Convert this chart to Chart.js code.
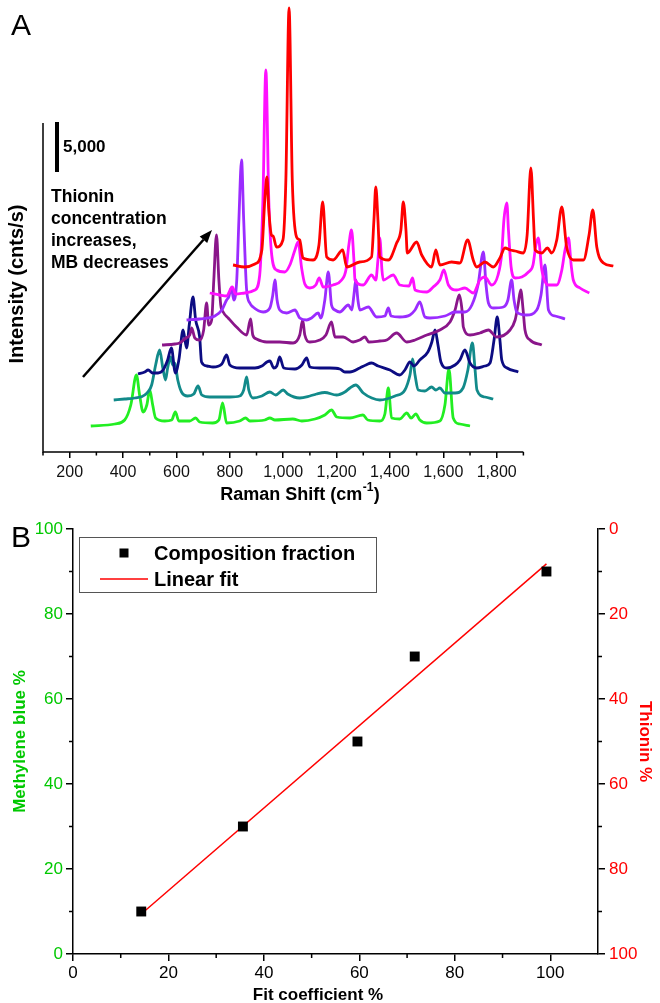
<!DOCTYPE html>
<html>
<head>
<meta charset="utf-8">
<script src="https://cdn.jsdelivr.net/npm/chart.js@4.4.0/dist/chart.umd.min.js"></script>
<style>
  html, body { margin: 0; padding: 0; background: #fff; }
  #wrap { position: relative; width: 660px; height: 1003px; }
  canvas { position: absolute; left: 0; }
  #spectraChart { top: 0; width: 660px; height: 510px; }
  #fitChart { top: 510px; width: 660px; height: 493px; }
</style>
</head>
<body>
<div id="wrap">
  <canvas id="spectraChart" width="660" height="510"></canvas>
  <canvas id="fitChart" width="660" height="493"></canvas>
</div>
<script>
// ---- Panel A: offset Raman spectra (shift in cm-1 as read on the axis, intensity in cnts/s) ----
const greenShift = [279, 369, 406, 429, 450, 462, 475, 489, 500, 511, 522, 556, 582, 596, 609, 650, 672, 687, 736, 759, 773, 788, 837, 859, 875, 931, 950, 969, 1036, 1070, 1119, 1156, 1181, 1201, 1250, 1299, 1317, 1362, 1381, 1394, 1406, 1437, 1463, 1479, 1497, 1512, 1538, 1587, 1606, 1621, 1637, 1662, 1700];
const greenCounts = [2600, 2800, 3200, 4700, 7700, 5700, 4000, 4700, 6200, 4700, 3400, 3100, 3200, 4000, 3100, 3100, 3400, 3000, 2900, 3200, 4900, 2900, 3100, 3400, 3100, 3200, 3400, 3200, 3300, 3100, 3300, 3700, 4200, 3500, 3400, 3700, 3200, 3100, 3800, 6400, 3400, 3300, 3900, 3400, 3800, 3200, 2900, 3100, 4700, 8300, 3400, 2800, 2600];

const tealShift = [365, 406, 444, 481, 507, 522, 537, 549, 559, 567, 578, 586, 594, 605, 619, 642, 665, 681, 695, 725, 750, 800, 837, 852, 863, 871, 887, 920, 950, 972, 1000, 1017, 1062, 1100, 1125, 1156, 1200, 1231, 1250, 1272, 1300, 1332, 1362, 1419, 1456, 1475, 1485, 1494, 1506, 1531, 1556, 1572, 1587, 1606, 1644, 1674, 1692, 1709, 1719, 1726, 1756, 1787];
const tealCounts = [5200, 5300, 5400, 5700, 6700, 8700, 10200, 8400, 7200, 8400, 9500, 8700, 8900, 7200, 6000, 5600, 5800, 6600, 5700, 5500, 5500, 5500, 5600, 6200, 7500, 6200, 5400, 5600, 6000, 5700, 6200, 5800, 5400, 5600, 5800, 5950, 5700, 6000, 6400, 6700, 5900, 5400, 5200, 5600, 6200, 7700, 9300, 7700, 6200, 6100, 6500, 6200, 6400, 5900, 5900, 6400, 8200, 10900, 8200, 6200, 5500, 5300];

const navyShift = [456, 481, 494, 511, 531, 550, 567, 581, 596, 609, 625, 638, 648, 662, 672, 687, 694, 714, 737, 770, 788, 800, 837, 894, 920, 939, 950, 965, 976, 987, 1002, 1044, 1070, 1088, 1100, 1137, 1175, 1212, 1231, 1250, 1287, 1310, 1331, 1356, 1400, 1437, 1456, 1475, 1490, 1512, 1542, 1557, 1569, 1580, 1591, 1613, 1644, 1662, 1681, 1700, 1725, 1756, 1775, 1790, 1802, 1812, 1819, 1839, 1881];
const navyCounts = [7800, 8000, 8200, 7900, 7900, 8200, 9200, 10400, 7900, 9200, 12200, 10400, 12700, 15500, 13200, 11500, 9000, 8600, 8500, 8800, 9700, 8700, 8400, 8400, 8600, 9000, 9100, 8400, 8600, 9500, 8400, 8300, 8700, 9400, 8500, 8400, 8400, 8300, 8000, 8000, 8400, 8700, 8900, 8600, 8200, 7700, 8200, 9000, 8600, 9200, 10000, 11000, 12200, 10700, 9000, 8400, 8700, 9200, 10200, 8900, 8400, 8600, 8900, 11200, 13500, 11200, 9200, 8400, 8000];

const purpleShift = [546, 594, 612, 635, 650, 657, 669, 687, 702, 713, 721, 732, 740, 750, 759, 766, 775, 794, 825, 863, 878, 886, 900, 938, 987, 1037, 1062, 1073, 1081, 1100, 1137, 1160, 1181, 1194, 1225, 1262, 1287, 1306, 1321, 1362, 1388, 1425, 1463, 1494, 1538, 1587, 1625, 1644, 1660, 1670, 1675, 1700, 1737, 1769, 1800, 1850, 1869, 1880, 1890, 1899, 1906, 1925, 1969];
const purpleCounts = [10700, 10800, 10900, 11400, 11700, 12400, 11400, 11200, 12200, 14900, 12700, 13200, 17200, 21700, 17200, 14700, 14000, 13400, 12500, 11700, 13300, 11700, 11300, 11000, 11000, 10900, 11700, 13200, 11700, 11000, 11200, 11700, 13000, 11500, 11500, 11000, 11200, 11500, 11000, 11100, 11200, 11900, 11000, 11200, 11700, 12200, 13000, 14200, 15700, 14200, 12500, 11700, 11900, 12200, 11500, 12200, 13200, 14700, 16200, 14200, 12200, 11200, 10700];

const violetShift = [638, 687, 744, 770, 788, 796, 806, 815, 826, 834, 844, 852, 863, 875, 887, 925, 950, 961, 969, 977, 987, 1013, 1044, 1062, 1088, 1106, 1131, 1141, 1156, 1169, 1181, 1194, 1212, 1244, 1257, 1265, 1272, 1280, 1287, 1319, 1350, 1381, 1394, 1404, 1437, 1475, 1494, 1512, 1531, 1550, 1606, 1644, 1681, 1707, 1730, 1750, 1760, 1769, 1787, 1825, 1842, 1856, 1865, 1875, 1912, 1950, 1966, 1981, 1994, 2019, 2056];
const violetCounts = [13200, 13300, 13600, 14200, 15200, 15500, 16400, 15200, 17200, 23200, 29200, 23200, 16200, 14900, 14500, 14000, 14400, 15700, 17200, 15200, 14200, 13900, 14200, 13400, 13200, 13400, 13900, 13400, 15200, 18000, 14700, 14200, 14000, 14700, 14200, 15700, 17200, 15200, 14200, 14500, 13500, 13600, 14400, 13600, 13500, 13700, 14200, 15000, 13500, 13400, 13600, 14000, 14000, 14700, 16700, 20000, 16700, 14900, 14400, 14500, 15200, 17200, 15200, 14000, 13700, 14200, 15700, 18700, 14200, 13600, 13300];

const magentaShift = [725, 762, 788, 809, 822, 856, 894, 912, 924, 935, 946, 957, 975, 1006, 1025, 1044, 1056, 1069, 1081, 1100, 1122, 1135, 1150, 1187, 1219, 1235, 1246, 1256, 1265, 1269, 1300, 1331, 1347, 1355, 1362, 1370, 1375, 1412, 1437, 1471, 1485, 1494, 1538, 1562, 1587, 1602, 1619, 1650, 1681, 1712, 1737, 1756, 1781, 1805, 1819, 1827, 1838, 1844, 1854, 1869, 1894, 1919, 1936, 1947, 1956, 1969, 1994, 2025, 2044, 2056, 2069, 2079, 2087, 2112, 2147];
const magentaCounts = [15900, 15700, 15600, 16500, 15800, 15900, 16200, 17700, 25200, 38200, 25200, 19700, 18200, 18000, 18700, 20200, 21000, 18400, 16800, 16400, 16700, 17400, 16500, 16700, 17200, 18200, 20700, 22200, 19200, 17200, 16700, 17700, 17200, 19200, 21400, 18200, 17200, 17700, 16700, 16600, 17400, 16200, 16000, 16500, 17200, 18200, 16700, 16200, 16400, 15900, 17200, 17500, 16700, 17700, 19900, 23200, 24900, 22200, 18500, 17400, 17500, 18000, 18700, 20700, 21400, 18200, 16700, 16700, 18200, 20200, 21400, 18700, 17200, 16400, 15900];

const redShift = [812, 856, 894, 920, 931, 939, 946, 956, 962, 975, 999, 1010, 1022, 1034, 1050, 1062, 1074, 1112, 1134, 1148, 1163, 1187, 1223, 1238, 1287, 1331, 1340, 1347, 1355, 1362, 1394, 1425, 1441, 1450, 1460, 1465, 1500, 1519, 1556, 1572, 1587, 1631, 1662, 1691, 1712, 1725, 1756, 1787, 1812, 1831, 1850, 1869, 1900, 1914, 1928, 1938, 1944, 1969, 1990, 2006, 2025, 2044, 2062, 2087, 2125, 2146, 2160, 2175, 2200, 2237];
const redCounts = [18700, 18500, 18800, 20200, 25200, 27500, 24200, 21700, 21600, 20500, 21200, 27200, 44400, 27200, 21500, 21200, 19400, 19200, 20700, 25000, 19500, 19200, 20200, 18500, 19000, 19500, 23200, 26500, 23200, 19500, 19200, 20900, 22200, 25000, 22200, 19900, 21000, 19700, 18500, 20200, 18700, 19000, 18900, 21200, 19200, 18500, 19000, 18500, 19400, 20400, 20200, 20100, 19900, 21700, 28400, 23200, 20200, 19900, 20400, 19900, 21200, 24500, 20500, 19200, 19200, 21700, 24200, 20500, 18900, 18600];

const ramanTicks = [200, 400, 600, 800, 1000, 1200, 1400, 1600, 1800];
const ramanMinorTicks = [100, 300, 500, 700, 900, 1100, 1300, 1500, 1700, 1900];
const ramanAxisEnd = 1900;
const scaleBarBase = 28000;
const scaleBarSize = 5000;

// ---- Panel B: composition vs fit coefficient ----
const fitCoefficient = [14.3, 35.6, 59.6, 71.6, 99.2];
const methyleneBluePct = [10, 30, 50, 70, 90];
const fitLineX = [14.3, 99.2];
const fitLineY = [9.4, 91.8];
const fitTicks = [0, 20, 40, 60, 80, 100];
const fitMinorTicks = [10, 30, 50, 70, 90];
const pctTicks = [0, 20, 40, 60, 80, 100];
const pctMinorTicks = [10, 30, 50, 70, 90];

const FONT = '"Liberation Sans", Arial, Helvetica, sans-serif';
const MB_GREEN = '#00c800';
const TH_RED = '#ff0000';
Chart.defaults.font.family = FONT;

const spectra = [
  { label: 'Spectrum 1', x: greenShift, y: greenCounts, color: '#22ee22' },
  { label: 'Spectrum 2', x: tealShift, y: tealCounts, color: '#128a8a' },
  { label: 'Spectrum 3', x: navyShift, y: navyCounts, color: '#0c0c82' },
  { label: 'Spectrum 4', x: purpleShift, y: purpleCounts, color: '#8a168a' },
  { label: 'Spectrum 5', x: violetShift, y: violetCounts, color: '#9b2cff' },
  { label: 'Spectrum 6', x: magentaShift, y: magentaCounts, color: '#ff10ff' },
  { label: 'Spectrum 7', x: redShift, y: redCounts, color: '#ff0000' }
];

function drawArrow(ctx, x1, y1, x2, y2) {
  const ang = Math.atan2(y2 - y1, x2 - x1);
  const head = 13, half = 5;
  const bx = x2 - head * Math.cos(ang), by = y2 - head * Math.sin(ang);
  ctx.beginPath();
  ctx.moveTo(x1, y1);
  ctx.lineTo(bx, by);
  ctx.stroke();
  ctx.beginPath();
  ctx.moveTo(x2, y2);
  ctx.lineTo(bx + half * Math.sin(ang), by - half * Math.cos(ang));
  ctx.lineTo(bx - half * Math.sin(ang), by + half * Math.cos(ang));
  ctx.closePath();
  ctx.fill();
}

const spectraDecor = {
  id: 'spectraDecor',
  afterDraw(chart) {
    const { ctx, chartArea: a, scales: { x, y } } = chart;
    const axisEnd = x.getPixelForValue(ramanAxisEnd);
    ctx.save();
    ctx.strokeStyle = '#000';
    ctx.fillStyle = '#000';

    // axis lines: x stops at 1900, y starts below the scale bar
    ctx.lineWidth = 1.5;
    ctx.beginPath();
    ctx.moveTo(a.left, 123);
    ctx.lineTo(a.left, a.bottom);
    ctx.lineTo(axisEnd, a.bottom);
    ctx.stroke();

    // minor ticks
    ctx.beginPath();
    ramanMinorTicks.forEach(v => {
      const px = x.getPixelForValue(v);
      ctx.moveTo(px, a.bottom);
      ctx.lineTo(px, a.bottom + 3.5);
    });
    ctx.stroke();

    // intensity scale bar
    const yTop = y.getPixelForValue(scaleBarBase + scaleBarSize);
    const yBot = y.getPixelForValue(scaleBarBase);
    ctx.lineWidth = 4;
    ctx.beginPath();
    ctx.moveTo(57, yTop);
    ctx.lineTo(57, yBot);
    ctx.stroke();
    ctx.font = 'bold 17px ' + FONT;
    ctx.textAlign = 'left';
    ctx.textBaseline = 'middle';
    ctx.fillText('5,000', 63, (yTop + yBot) / 2);

    // annotation
    ctx.font = 'bold 17.5px ' + FONT;
    ['Thionin', 'concentration', 'increases,', 'MB decreases'].forEach((t, i) => {
      ctx.fillText(t, 51, 197 + i * 22);
    });
    ctx.lineWidth = 2.5;
    drawArrow(ctx, 83, 377, 212, 230);

    // panel letter
    ctx.font = '30px ' + FONT;
    ctx.textBaseline = 'alphabetic';
    ctx.fillText('A', 11, 35);

    // axis titles
    ctx.font = 'bold 20px ' + FONT;
    ctx.textAlign = 'center';
    ctx.textBaseline = 'middle';
    ctx.save();
    ctx.translate(17, 284);
    ctx.rotate(-Math.PI / 2);
    ctx.fillText('Intensity (cnts/s)', 0, 0);
    ctx.restore();

    ctx.font = 'bold 18px ' + FONT;
    const main = 'Raman Shift (cm';
    const sup = '-1';
    const close = ')';
    const wMain = ctx.measureText(main).width;
    const wClose = ctx.measureText(close).width;
    ctx.font = 'bold 12px ' + FONT;
    const wSup = ctx.measureText(sup).width;
    const total = wMain + wSup + wClose + 1;
    let tx = 300 - total / 2;
    ctx.textAlign = 'left';
    ctx.font = 'bold 18px ' + FONT;
    ctx.fillText(main, tx, 495);
    ctx.font = 'bold 12px ' + FONT;
    ctx.fillText(sup, tx + wMain + 0.5, 488);
    ctx.font = 'bold 18px ' + FONT;
    ctx.fillText(close, tx + wMain + wSup + 1, 495);
    ctx.restore();
  }
};

new Chart(document.getElementById('spectraChart'), {
  type: 'line',
  data: {
    datasets: spectra.map((s, i) => ({
      label: s.label,
      data: s.x.map((v, k) => ({ x: v, y: s.y[k] })),
      borderColor: s.color,
      borderWidth: 2.8,
      pointRadius: 0,
      cubicInterpolationMode: 'monotone',
      clip: false,
      order: spectra.length - 1 - i
    }))
  },
  options: {
    responsive: false,
    animation: false,
    layout: { padding: { left: 43, right: 43.2, top: 0, bottom: 0 } },
    plugins: { legend: { display: false }, tooltip: { enabled: false } },
    scales: {
      x: {
        type: 'linear',
        min: 100,
        max: 2250,
        afterBuildTicks: s => { s.ticks = ramanTicks.map(v => ({ value: v })); },
        afterFit: s => { s.height = 58; },
        grid: { drawOnChartArea: false, tickLength: 6, color: '#000', lineWidth: 1.5 },
        border: { display: false },
        ticks: {
          color: '#111',
          font: { size: 16 },
          padding: 5,
          maxRotation: 0,
          callback: v => v.toLocaleString('en-US')
        }
      },
      y: { display: false, min: 0, max: 45200 }
    }
  },
  plugins: [spectraDecor]
});

const fitDecor = {
  id: 'fitDecor',
  afterDraw(chart) {
    const { ctx, chartArea: a, scales: { x, y } } = chart;
    ctx.save();
    ctx.strokeStyle = '#000';
    ctx.fillStyle = '#000';
    ctx.lineWidth = 1.5;

    // minor ticks
    ctx.beginPath();
    fitMinorTicks.forEach(v => {
      const px = x.getPixelForValue(v);
      ctx.moveTo(px, a.bottom);
      ctx.lineTo(px, a.bottom + 4);
    });
    pctMinorTicks.forEach(v => {
      const py = y.getPixelForValue(v);
      ctx.moveTo(a.left, py);
      ctx.lineTo(a.left - 4, py);
      ctx.moveTo(a.right, py);
      ctx.lineTo(a.right + 4, py);
    });
    ctx.stroke();

    // legend box
    const ds = chart.data.datasets;
    ctx.lineWidth = 1;
    ctx.strokeStyle = '#555';
    ctx.strokeRect(79.5, 27.5, 297, 55);
    ctx.fillStyle = '#000';
    ctx.fillRect(119.5, 38.5, 9, 9);
    ctx.strokeStyle = TH_RED;
    ctx.lineWidth = 1.5;
    ctx.beginPath();
    ctx.moveTo(100, 69);
    ctx.lineTo(148, 69);
    ctx.stroke();
    ctx.font = 'bold 20px ' + FONT;
    ctx.textAlign = 'left';
    ctx.textBaseline = 'middle';
    ctx.fillText(ds[0].label, 154, 44);
    ctx.fillText(ds[1].label, 154, 70);

    // panel letter
    ctx.font = '30px ' + FONT;
    ctx.textBaseline = 'alphabetic';
    ctx.fillText('B', 11, 37);

    // axis titles
    const cy = (a.top + a.bottom) / 2;
    ctx.font = 'bold 17px ' + FONT;
    ctx.textAlign = 'center';
    ctx.textBaseline = 'middle';
    ctx.save();
    ctx.fillStyle = MB_GREEN;
    ctx.translate(20, cy);
    ctx.rotate(-Math.PI / 2);
    ctx.fillText('Methylene blue %', 0, 0);
    ctx.restore();

    ctx.save();
    ctx.fillStyle = TH_RED;
    ctx.translate(645, cy);
    ctx.rotate(Math.PI / 2);
    ctx.fillText('Thionin %', 0, 0);
    ctx.restore();

    ctx.fillStyle = '#000';
    ctx.fillText('Fit coefficient %', 318, 485);
    ctx.restore();
  }
};

const axisGrid = { drawOnChartArea: false, tickLength: 7, color: '#000', lineWidth: 1.5 };
const axisBorder = { color: '#000', width: 1.5 };

new Chart(document.getElementById('fitChart'), {
  type: 'line',
  data: {
    datasets: [
      {
        label: 'Composition fraction',
        data: fitCoefficient.map((v, i) => ({ x: v, y: methyleneBluePct[i] })),
        showLine: false,
        pointStyle: 'rect',
        pointRadius: 7,
        backgroundColor: '#000',
        borderColor: '#000',
        borderWidth: 0,
        yAxisID: 'y'
      },
      {
        label: 'Linear fit',
        data: fitLineX.map((v, i) => ({ x: v, y: fitLineY[i] })),
        borderColor: TH_RED,
        borderWidth: 1.5,
        pointRadius: 0,
        yAxisID: 'y'
      }
    ]
  },
  options: {
    responsive: false,
    animation: false,
    layout: { padding: { top: 19, left: 0, right: 0, bottom: 0 } },
    plugins: { legend: { display: false }, tooltip: { enabled: false } },
    scales: {
      x: {
        type: 'linear',
        min: 0,
        max: 110,
        afterBuildTicks: s => { s.ticks = fitTicks.map(v => ({ value: v })); },
        afterFit: s => { s.height = 49; },
        grid: axisGrid,
        border: axisBorder,
        ticks: { color: '#000', font: { size: 17 }, padding: 2, maxRotation: 0 }
      },
      y: {
        position: 'left',
        min: 0,
        max: 100,
        afterBuildTicks: s => { s.ticks = pctTicks.map(v => ({ value: v })); },
        afterFit: s => { s.width = 73; },
        grid: axisGrid,
        border: axisBorder,
        ticks: { color: MB_GREEN, font: { size: 17 }, padding: 3 }
      },
      y2: {
        position: 'right',
        reverse: true,
        min: 0,
        max: 100,
        afterBuildTicks: s => { s.ticks = pctTicks.map(v => ({ value: v })); },
        afterFit: s => { s.width = 62; },
        grid: axisGrid,
        border: axisBorder,
        ticks: { color: TH_RED, font: { size: 17 }, padding: 4 }
      }
    }
  },
  plugins: [fitDecor]
});
</script>
</body>
</html>
